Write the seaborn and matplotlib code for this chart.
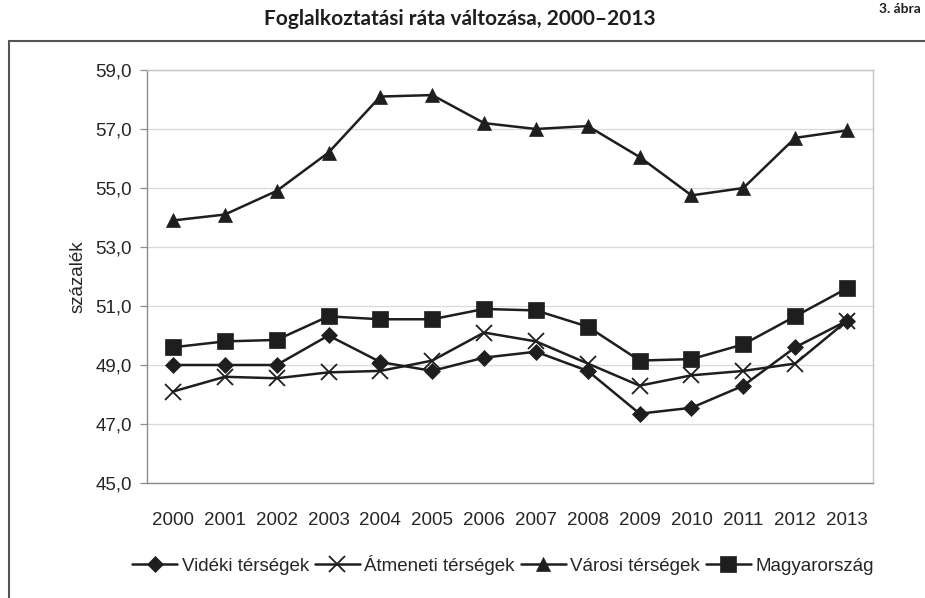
import numpy as np
import pandas as pd
import matplotlib
matplotlib.use("Agg")
import matplotlib.pyplot as plt
from matplotlib.lines import Line2D
import seaborn as sns

# data
years = ["2000", "2001", "2002", "2003", "2004", "2005", "2006",
         "2007", "2008", "2009", "2010", "2011", "2012", "2013"]
videki = [49.0, 49.0, 49.0, 50.0, 49.1, 48.8, 49.25, 49.45, 48.8, 47.35, 47.55, 48.3, 49.6, 50.5]
atmeneti = [48.1, 48.6, 48.55, 48.75, 48.8, 49.15, 50.1, 49.8, 49.05, 48.3, 48.65, 48.8, 49.05, 50.5]
varosi = [53.9, 54.1, 54.9, 56.2, 58.1, 58.15, 57.2, 57.0, 57.1, 56.05, 54.75, 55.0, 56.7, 56.95]
magyarorszag = [49.6, 49.8, 49.85, 50.65, 50.55, 50.55, 50.9, 50.85, 50.3, 49.15, 49.2, 49.7, 50.65, 51.6]

series_names = ["Vidéki térségek", "Átmeneti térségek", "Városi térségek", "Magyarország"]
series_values = [videki, atmeneti, varosi, magyarorszag]
series_markers = ["D", "x", "^", "s"]
marker_sizes = [8, 11, 10, 12]

sns.set_theme(style="white")
plt.rcParams["font.family"] = ["Liberation Sans", "DejaVu Sans"]

fig = plt.figure(figsize=(9.25, 5.98), dpi=100)
ax = fig.add_axes([147 / 925, 1 - 483 / 598, (873 - 147) / 925, (483 - 70) / 598])

ink = "#1e1e1e"
txt = "#262626"
fs = 13.5
x = np.arange(len(years))
for name, vals, mk, ms in zip(series_names, series_values, series_markers, marker_sizes):
    df = pd.DataFrame({"x": x, "y": vals})
    sns.lineplot(data=df, x="x", y="y", ax=ax, color=ink, linewidth=1.8,
                 marker=mk, markersize=ms, markeredgewidth=1.3 if mk == "x" else 0.5,
                 markeredgecolor=ink, markerfacecolor=ink, label=name)

ax.set_xlim(-0.5, len(years) - 0.5)
ax.set_ylim(45, 59)
ax.set_yticks(np.arange(45, 59.1, 2))
ax.set_yticklabels([f"{v:.1f}".replace(".", ",") for v in np.arange(45, 59.1, 2)])
ax.set_xticks(x)
ax.set_xticklabels(years)
ax.set_xticks(np.arange(-0.5, len(years), 1), minor=True)
ax.tick_params(axis="x", which="major", length=0, pad=21, labelsize=fs, colors=txt)
ax.tick_params(axis="x", which="minor", length=5, width=0.9, color="#8c8c8c", direction="out")
ax.tick_params(axis="y", length=5, width=0.9, color="#8c8c8c", direction="out",
               labelsize=fs, labelcolor=txt, pad=6, left=True)
ax.grid(axis="y", color="#d9d9d9", linewidth=0.9)
ax.set_axisbelow(True)
ax.set_xlabel("")
ax.set_ylabel("százalék", fontsize=fs, color=txt, labelpad=6)

for side in ["left", "bottom"]:
    ax.spines[side].set_color("#8c8c8c")
    ax.spines[side].set_linewidth(1.0)
for side in ["top", "right"]:
    ax.spines[side].set_color("#c4c4c4")
    ax.spines[side].set_linewidth(1.0)

ax.legend(loc="center", bbox_to_anchor=(503 / 925, 1 - 565 / 598), bbox_transform=fig.transFigure,
          ncol=4, frameon=False, fontsize=fs, handlelength=2.4, columnspacing=0.3,
          handletextpad=0.25, borderaxespad=0)

fig.text(460 / 925, 1 - 19 / 598, "Foglalkoztatási ráta változása, 2000–2013",
         ha="center", va="center", fontsize=15, fontweight="bold", family="Lato", color=ink)
fig.text(921 / 925, 1 - 3 / 598, "3. ábra", ha="right", va="top", fontsize=10,
         fontweight="bold", family="Lato", color=ink)

# outer frame around the figure area
frame_kw = dict(color="#555555", linewidth=1.5, transform=fig.transFigure)
fig.add_artist(Line2D([8.5 / 925, 8.5 / 925], [0, 1 - 40.5 / 598], **frame_kw))
fig.add_artist(Line2D([8.5 / 925, 1], [1 - 40.5 / 598, 1 - 40.5 / 598], **frame_kw))

fig.savefig("out.png", dpi=100)
